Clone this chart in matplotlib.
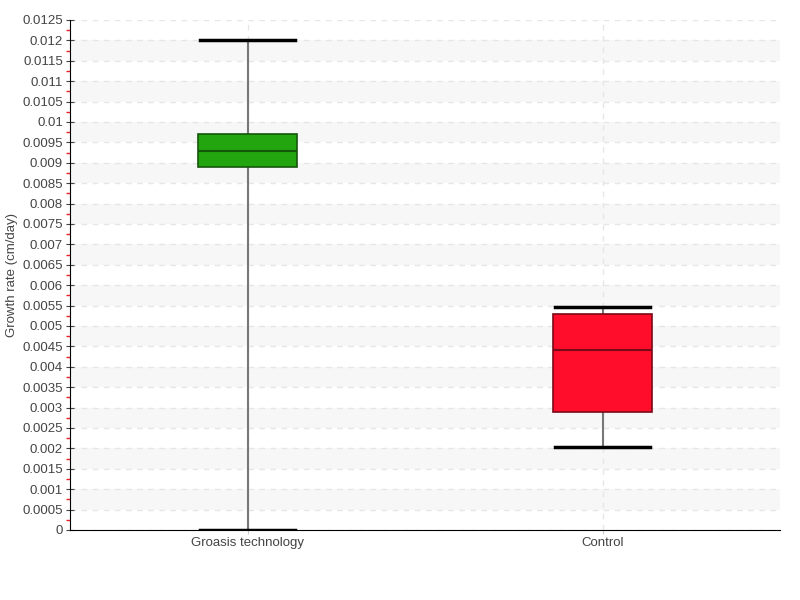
import numpy as np
from matplotlib import pyplot as plt
from matplotlib.ticker import MultipleLocator

plt.rcParams['font.family'] = ['Liberation Sans Narrow', 'Liberation Sans', 'DejaVu Sans']

# box statistics
groups = ["Groasis technology", "Control"]
whisker_low = [0.0, 0.00203]
q1 = [0.0089, 0.0029]
median = [0.0093, 0.0044]
q3 = [0.0097, 0.0053]
whisker_high = [0.012, 0.00547]
face_colors = ["#22a50e", "#ff0d2a"]
edge_colors = ["#16560c", "#7a0a18"]

ytick_step = 0.0005
ymax = 0.0125


def fmt_tick(v, pos):
    return ("%.4f" % v).rstrip("0").rstrip(".")


fig, ax = plt.subplots(figsize=(8, 6), dpi=100)
fig.subplots_adjust(left=0.0875, right=0.975, bottom=0.1167, top=0.9667)

# alternating bands
for lo in np.arange(ytick_step, ymax, 2 * ytick_step):
    ax.axhspan(lo, lo + ytick_step, color="#f7f7f7", zorder=0, lw=0)

stats = []
for i, g in enumerate(groups):
    stats.append({"label": g, "whislo": whisker_low[i], "q1": q1[i], "med": median[i],
                  "q3": q3[i], "whishi": whisker_high[i], "fliers": []})

bp = ax.bxp(stats, positions=[1, 2], widths=0.28, capwidths=0.27, patch_artist=True,
            showfliers=False,
            boxprops=dict(linewidth=1.2),
            whiskerprops=dict(color="#777777", linewidth=1.5),
            capprops=dict(color="black", linewidth=2.5),
            medianprops=dict(linewidth=1.5))
for i, box in enumerate(bp["boxes"]):
    box.set_facecolor(face_colors[i])
    box.set_edgecolor(edge_colors[i])
    box.set_zorder(3)
    bp["medians"][i].set_color(edge_colors[i])
    bp["medians"][i].set_zorder(4)

ax.set_xlim(0.5, 2.5)
ax.set_ylim(0, ymax)
ax.yaxis.set_major_locator(MultipleLocator(ytick_step))
ax.yaxis.set_minor_locator(MultipleLocator(ytick_step / 2))
ax.yaxis.set_major_formatter(plt.FuncFormatter(fmt_tick))
ax.tick_params(axis="y", which="major", direction="inout", length=6, color="#444444",
               labelsize=9.5, labelcolor="#444444", pad=2)
ax.tick_params(axis="y", which="minor", direction="out", length=3, width=1, color="#ee2222")
ax.tick_params(axis="x", which="major", length=3, color="#cccccc", labelsize=9.5,
               labelcolor="#444444", pad=2)
ax.set_xticks([1, 2])
ax.set_xticklabels(groups)

ax.grid(axis="both", which="major", linestyle=(0, (4, 4)), color="#e6e6e6", linewidth=1, zorder=1)
ax.set_axisbelow(True)

for s in ["top", "right"]:
    ax.spines[s].set_visible(False)
ax.spines["left"].set_color("black")
ax.spines["bottom"].set_color("black")

ax.set_ylabel("Growth rate (cm/day)", fontsize=9.5, color="#444444", labelpad=3)

plt.savefig("out.png", dpi=100)
